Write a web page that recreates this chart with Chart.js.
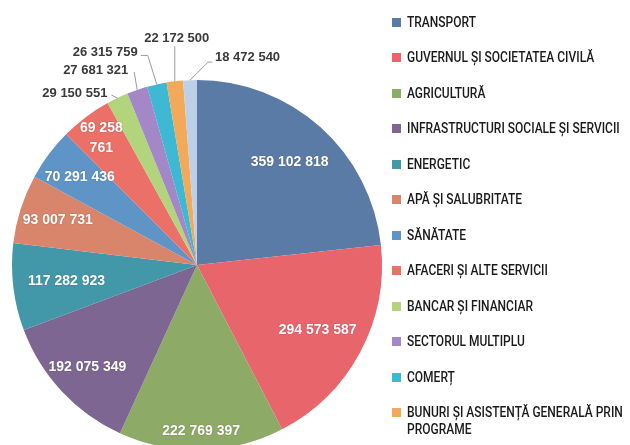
<!DOCTYPE html>
<html>
<head>
<meta charset="utf-8">
<script src="https://cdn.jsdelivr.net/npm/chart.js@4"></script>
<style>
  html, body { margin: 0; padding: 0; background: #fff; }
  #wrap { position: relative; width: 630px; height: 445px; overflow: hidden; }
  #pie { position: absolute; left: 0; top: 0; }
  #legend { position: absolute; left: 392px; top: 13.5px; margin: 0; padding: 0; list-style: none;
            font-family: Roboto, "DejaVu Sans Condensed", sans-serif; font-size: 15px; font-weight: 500; color: #1a1a1a; }
  #legend li { position: relative; padding: 0 0 18.5px 15px; line-height: 17px; }
  #legend li span.sw { position: absolute; left: 0; top: 4px; width: 9px; height: 9px; }
  #legend li span.t { display: inline-block; width: 272px; transform: scaleX(0.8); transform-origin: 0 0; }
</style>
</head>
<body>
<div id="wrap">
  <canvas id="pie" width="395" height="460"></canvas>
  <ul id="legend"></ul>
</div>
<script>
// categories and values (lei)
const sectors = [
    'TRANSPORT',
    'GUVERNUL ȘI SOCIETATEA CIVILĂ',
    'AGRICULTURĂ',
    'INFRASTRUCTURI SOCIALE ȘI SERVICII',
    'ENERGETIC',
    'APĂ ȘI SALUBRITATE',
    'SĂNĂTATE',
    'AFACERI ȘI ALTE SERVICII',
    'BANCAR ȘI FINANCIAR',
    'SECTORUL MULTIPLU',
    'COMERȚ',
    'BUNURI ȘI ASISTENȚĂ GENERALĂ PRIN PROGRAME',
    'ALTELE'
];
const amounts = [
    359102818, 294573587, 222769397, 192075349, 117282923, 93007731, 70291436,
    69258761, 29150551, 27681321, 26315759, 22172500, 18472540
];
const colors = [
    '#5B7BA7', '#E8656B', '#8DAA66', '#7E6693', '#4298A9', '#D8856B', '#5F95C6',
    '#EA7068', '#B1D47C', '#A387C6', '#3EB8D3', '#F2A95A', '#BDD0EA'
];

// where the white labels sit inside the slices (fraction of radius)
const insideRadius = [0.75, 0.74, 0.9, 0.81, 0.71, 0.79, 0.79, 0.86];
const wrapLabel = [7];
// leader lines for the thin slices: elbow, end, text anchor (relative to the rim point)
const outside = {
    8:  { elbow: [-6, -3],  end: [-6, -3],   text: [-10, -5],  align: 'right' },
    9:  { elbow: [-3, -18], end: [-3, -18],  text: [-9, -20],  align: 'right' },
    10: { elbow: [-9, -29], end: [-16, -29], text: [-19, -32], align: 'right' },
    11: { elbow: [0, -35],  end: [0, -35],   text: [2, -43],   align: 'center' },
    12: { elbow: [18, -18], end: [22, -18],  text: [25, -23],  align: 'left' }
};

function fmt(v) {
    return String(v).replace(/\B(?=(\d{3})+(?!\d))/g, ' ');
}

const valueLabels = {
    id: 'valueLabels',
    afterDatasetsDraw(chart) {
        const ctx = chart.ctx;
        const arcs = chart.getDatasetMeta(0).data;
        arcs.forEach((arc, i) => {
            const p = arc.getProps(['x', 'y', 'startAngle', 'endAngle', 'outerRadius'], true);
            const mid = (p.startAngle + p.endAngle) / 2;
            const text = fmt(amounts[i]);
            ctx.save();
            ctx.textBaseline = 'middle';
            if (outside[i]) {
                const o = outside[i];
                const ex = p.x + Math.cos(mid) * p.outerRadius;
                const ey = p.y + Math.sin(mid) * p.outerRadius;
                ctx.strokeStyle = '#9a9a9a';
                ctx.lineWidth = 1;
                ctx.beginPath();
                ctx.moveTo(ex, ey);
                ctx.lineTo(ex + o.elbow[0], ey + o.elbow[1]);
                ctx.lineTo(ex + o.end[0], ey + o.end[1]);
                ctx.stroke();
                ctx.font = 'bold 13px "Liberation Sans", Arial, sans-serif';
                ctx.fillStyle = '#3a3a3a';
                ctx.textAlign = o.align;
                ctx.fillText(text, ex + o.text[0], ey + o.text[1]);
            } else {
                const f = insideRadius[i];
                const lx = p.x + Math.cos(mid) * p.outerRadius * f;
                const ly = p.y + Math.sin(mid) * p.outerRadius * f;
                ctx.font = 'bold 14px "Liberation Sans", Arial, sans-serif';
                ctx.fillStyle = '#fff';
                ctx.textAlign = 'center';
                ctx.shadowColor = 'rgba(0,0,0,0.25)';
                ctx.shadowBlur = 1.5;
                if (wrapLabel.includes(i)) {
                    const parts = text.split(' ');
                    ctx.fillText(parts.slice(0, 2).join(' '), lx, ly - 10);
                    ctx.fillText(parts.slice(2).join(' '), lx, ly + 10);
                } else {
                    ctx.fillText(text, lx, ly);
                }
            }
            ctx.restore();
        });
    }
};

new Chart(document.getElementById('pie'), {
    type: 'pie',
    data: {
        labels: sectors,
        datasets: [{
            data: amounts,
            backgroundColor: colors,
            borderWidth: 0
        }]
    },
    options: {
        responsive: false,
        animation: false,
        layout: { padding: { left: 12, right: 13, top: 80, bottom: 10 } },
        plugins: {
            legend: { display: false },
            tooltip: { enabled: false }
        }
    },
    plugins: [valueLabels]
});

// legend at the right
const legend = document.getElementById('legend');
sectors.forEach((name, i) => {
    const li = document.createElement('li');
    const sw = document.createElement('span');
    sw.className = 'sw';
    sw.style.background = colors[i];
    const t = document.createElement('span');
    t.className = 't';
    t.textContent = name;
    li.appendChild(sw);
    li.appendChild(t);
    legend.appendChild(li);
});
</script>
</body>
</html>
